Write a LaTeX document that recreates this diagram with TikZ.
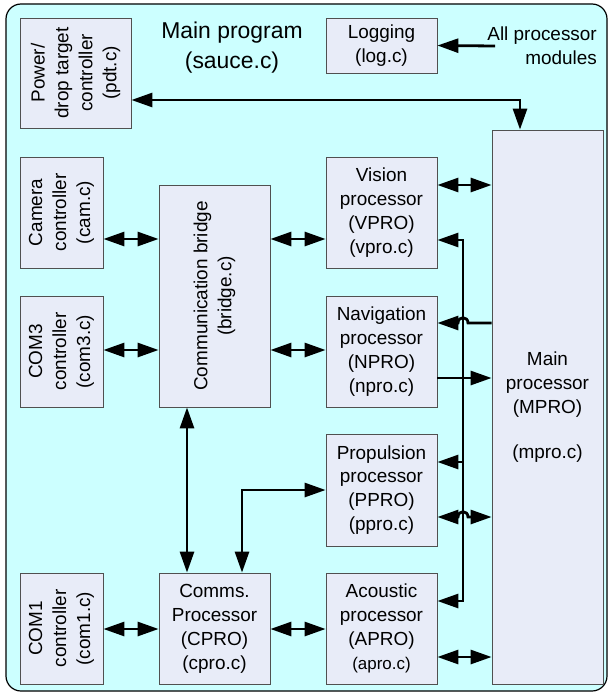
\documentclass[tikz,border=0pt]{standalone}
\usepackage{fontspec}
\setmainfont{Liberation Sans}
\usetikzlibrary{arrows.meta}
\definecolor{bg}{HTML}{CCFFFF}
\definecolor{boxfill}{HTML}{E8ECF8}
\definecolor{boxline}{HTML}{505050}
\begin{document}
\begin{tikzpicture}[x=1bp,y=-1bp,
  box/.style={draw=boxline, fill=boxfill, line width=0.8bp, inner sep=0pt},
  txt/.style={font=\fontsize{19}{24}\selectfont, align=center, inner sep=0pt, text=black},
  arr/.style={line width=2.8bp, -{Triangle[length=21bp,width=14bp]}},
  darr/.style={line width=2.8bp, {Triangle[length=21bp,width=14bp]}-{Triangle[length=21bp,width=14bp]}}]
\useasboundingbox (0,0) rectangle (611,695);
\draw[fill=bg, line width=1.2bp, rounded corners=15bp] (6,4) rectangle (607,691);

% boxes
\node[box, minimum width=111bp, minimum height=110bp] (pdt) at (75.5,73) {};
\node[txt, rotate=90] at (pdt) {Power/\\drop target\\controller\\(pdt.c)};
\node[box, txt, minimum width=111bp, minimum height=55bp] (log) at (381.5,45.5) {Logging\\(log.c)};
\node[box, txt, minimum width=111bp, minimum height=554bp] (mpro) at (547.5,407) {Main\\processor\\(MPRO)\\[21bp](mpro.c)};
\node[box, txt, minimum width=111bp, minimum height=111bp] (vpro) at (381.5,212.5) {Vision\\processor\\(VPRO)\\(vpro.c)};
\node[box, txt, minimum width=111bp, minimum height=111bp] (npro) at (381.5,351.5) {Navigation\\processor\\(NPRO)\\(npro.c)};
\node[box, txt, minimum width=111bp, minimum height=112bp] (ppro) at (381.5,490) {Propulsion\\processor\\(PPRO)\\(ppro.c)};
\node[box, txt, minimum width=111bp, minimum height=111bp] (apro) at (381.5,628.5) {Acoustic\\processor\\(APRO)\\{\fontsize{17}{24}\selectfont(apro.c)}};
\node[box, minimum width=83bp, minimum height=111bp] (cam) at (61.5,212.5) {};
\node[txt, rotate=90] at (cam) {Camera\\controller\\(cam.c)};
\node[box, minimum width=83bp, minimum height=111bp] (com3) at (61.5,351.5) {};
\node[txt, rotate=90] at (com3) {COM3\\controller\\(com3.c)};
\node[box, minimum width=83bp, minimum height=111bp] (com1) at (61.5,628.5) {};
\node[txt, rotate=90] at (com1) {COM1\\controller\\(com1.c)};
\node[box, minimum width=111bp, minimum height=222bp] (bridge) at (214.5,296) {};
\node[txt, rotate=90] at (bridge) {Communication bridge\\(bridge.c)};
\node[box, txt, minimum width=111bp, minimum height=111bp] (cpro) at (214.5,628.5) {Comms.\\Processor\\(CPRO)\\(cpro.c)};

% free texts
\node[txt, font=\fontsize{23}{30}\selectfont] (title) at (232,48) {Main program\\(sauce.c)};
\node[txt, anchor=east, align=right] (allp) at (597,46) {All processor\\modules};

% connectors
\draw[arr] ([xshift=8bp]allp.west) -- (log.east);
\draw[darr] (pdt.east |- 0,100) -- (520,100) -- (mpro.north -| 520,0);

\draw[darr] (cam.east |- 0,239) -- (bridge.west |- 0,239);
\draw[darr] (com3.east |- 0,350) -- (bridge.west |- 0,350);
\draw[darr] (bridge.east |- 0,239) -- (vpro.west |- 0,239);
\draw[darr] (bridge.east |- 0,350) -- (npro.west |- 0,350);
\draw[darr] (bridge.south -| 187,0) -- (cpro.north -| 187,0);
\draw[darr] (com1.east |- 0,629) -- (cpro.west |- 0,629);
\draw[darr] (cpro.east |- 0,629) -- (apro.west |- 0,629);
\draw[darr] (cpro.north -| 242,0) -- (242,490) -- (ppro.west |- 0,490);

\draw[darr] (vpro.east |- 0,185) -- (mpro.west |- 0,185);
\draw[arr] (npro.east |- 0,378) -- (mpro.west |- 0,378);
\draw[darr] (apro.east |- 0,657) -- (mpro.west |- 0,657);

\coordinate (bus) at (463,378);
\draw[arr] (bus) -- (bus |- 0,240) -- (vpro.east |- 0,240);
\draw[arr] (bus) -- (bus |- 0,601) -- (apro.east |- 0,601);
\draw[arr] (bus |- 0,462) -- (ppro.east |- 0,462);

\draw[arr] (mpro.west |- 0,323) -- (468,323) .. controls (468,316) and (458,316) .. (458,323) -- (npro.east |- 0,323);
\draw[darr] (ppro.east |- 0,517) -- (458,517) .. controls (458,510) and (468,510) .. (468,517) -- (mpro.west |- 0,517);
\end{tikzpicture}
\end{document}
